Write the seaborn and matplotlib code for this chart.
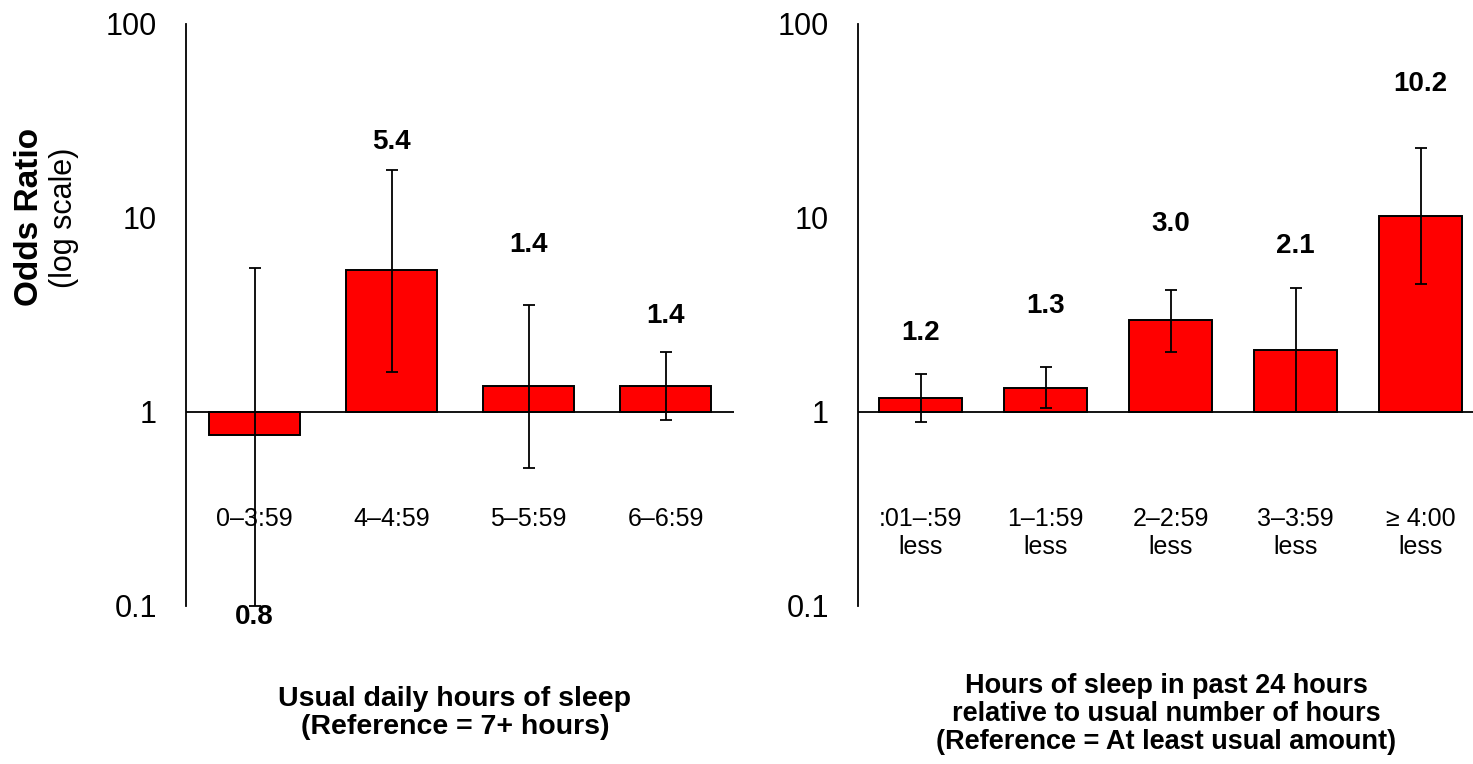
import numpy as np
import pandas as pd
import matplotlib
matplotlib.use("Agg")
import matplotlib.pyplot as plt
import matplotlib.transforms as mtransforms
import seaborn as sns

# left panel: usual daily hours of sleep
usual_cats = ["0–3:59", "4–4:59", "5–5:59", "6–6:59"]
usual_or = [0.76, 5.4, 1.36, 1.36]
usual_lo = [0.1, 1.61, 0.51, 0.91]
usual_hi = [5.5, 17.7, 3.53, 2.04]

# right panel: sleep in past 24 h relative to usual
past_cats = [":01–:59\nless", "1–1:59\nless", "2–2:59\nless", "3–3:59\nless", "≥ 4:00\nless"]
past_or = [1.18, 1.33, 2.97, 2.08, 10.2]
past_lo = [0.88, 1.05, 2.03, 1.0, 4.54]
past_hi = [1.57, 1.69, 4.24, 4.37, 22.9]

# label offsets in pixels from the CI end (manual placement like the original)
usual_offsets = [-12, 28, 60, 36]
past_offsets = [41, 61, 66, 42, 64]

sns.set_theme(style="white")
plt.rcParams["font.family"] = ["Liberation Sans", "DejaVu Sans"]

W, H = 1473, 764
fig = plt.figure(figsize=(W / 100, H / 100), dpi=100)
ax_l = fig.add_axes([186 / W, 158.5 / H, 548 / W, 581.5 / H])
ax_r = fig.add_axes([858 / W, 158.5 / H, 625 / W, 581.5 / H])


def draw_panel(ax, cats, ors, lo, hi, offsets):
    n = len(cats)
    df = pd.DataFrame({"cat": cats, "odds": ors})
    sns.barplot(data=df, x="cat", y="odds", color="#FF0000", saturation=1,
                edgecolor="black", linewidth=1.4, width=0.67, ax=ax)
    # bars grow from OR = 1, not from 0
    for p, v in zip(ax.patches, ors):
        p.set_y(1)
        p.set_height(v - 1)

    ors = np.array(ors)
    yerr = [ors - np.array(lo), np.array(hi) - ors]
    ax.errorbar(np.arange(n), ors, yerr=yerr, fmt="none", ecolor="black",
                elinewidth=1.3, capsize=4.3, capthick=1.3, zorder=3)
    ax.axhline(1, color="black", lw=1.3, zorder=4)

    ax.set_yscale("log")
    ax.set_ylim(0.1, 100)
    ax.set_xlim(-0.5, n - 0.5)
    ax.set_yticks([0.1, 1, 10, 100])
    ax.set_yticklabels(["0.1", "1", "10", "100"])
    ax.minorticks_off()
    ax.tick_params(axis="y", length=0, pad=21, labelsize=22, labelcolor="black")
    ax.set_xticks([])
    ax.set_xlabel("")
    ax.set_ylabel("")
    for s in ["top", "right", "bottom"]:
        ax.spines[s].set_visible(False)
    ax.spines["left"].set_color("black")
    ax.spines["left"].set_linewidth(1.3)

    trans = mtransforms.blended_transform_factory(ax.transData, ax.transAxes)
    for i, c in enumerate(cats):
        ax.text(i, 0.1688, c, transform=trans, ha="center", va="top",
                fontsize=18, color="black", linespacing=1.19)

    for i, v in enumerate(ors):
        anchor = hi[i] if v >= 1 else lo[i]
        ax.annotate(f"{v:.1f}", xy=(i, anchor), xytext=(0, offsets[i]),
                    textcoords="offset pixels", ha="center", va="center",
                    fontsize=20, fontweight="bold", color="black",
                    annotation_clip=False)


draw_panel(ax_l, usual_cats, usual_or, usual_lo, usual_hi, usual_offsets)
draw_panel(ax_r, past_cats, past_or, past_lo, past_hi, past_offsets)

fig.text(29 / W, 1 - 217 / H, "Odds Ratio", rotation=90, ha="center", va="center",
         fontsize=24, fontweight="bold", color="black")
fig.text(64 / W, 1 - 218 / H, "(log scale)", rotation=90, ha="center", va="center",
         fontsize=22, color="black")

# va="baseline" on multi-line text anchors the last line's baseline
fig.text(455 / W, 1 - 734 / H, "Usual daily hours of sleep\n(Reference = 7+ hours)",
         ha="center", va="baseline", multialignment="center", fontsize=20.5,
         fontweight="bold", color="black", linespacing=1.1)
fig.text(1166 / W, 1 - 749 / H,
         "Hours of sleep in past 24 hours\nrelative to usual number of hours\n(Reference = At least usual amount)",
         ha="center", va="baseline", multialignment="center", fontsize=19.5,
         fontweight="bold", color="black", linespacing=1.1)

fig.savefig("out.png", dpi=100)
